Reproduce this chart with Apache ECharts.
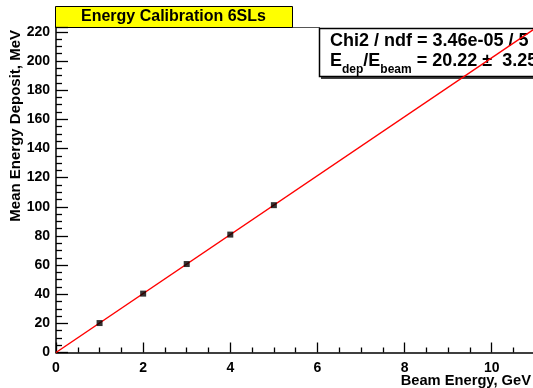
<!DOCTYPE html>
<html>
<head>
<meta charset="utf-8">
<script src="https://cdn.jsdelivr.net/npm/echarts@6/dist/echarts.min.js"></script>
<style>
html,body{margin:0;padding:0;background:#fff;}
#c{width:533px;height:388px;}
</style>
</head>
<body>
<div id="c"></div>
<script>
// Data
var beamEnergy = [1, 2, 3, 4, 5];
var energyDeposit = [20.2, 40.4, 60.7, 80.9, 101.1];
var fitSlope = 20.22;
var fitRange = [0, 11];
var titleText = 'Energy Calibration 6SLs';
var xTitle = 'Beam Energy, GeV';
var yTitle = 'Mean Energy Deposit, MeV';
var statLine1 = 'Chi2 / ndf = 3.46e-05 / 5';

var FONT = 'Liberation Sans, Arial, Helvetica, sans-serif';
var pts = beamEnergy.map(function(x, i){ return [x, energyDeposit[i]]; });
var fitPts = fitRange.map(function(x){ return [x, fitSlope * x]; });

var chart = echarts.init(document.getElementById('c'));
chart.setOption({
  animation: false,
  backgroundColor: '#fff',
  grid: {left: 56, top: 27.5, width: 479.3, height: 325, containLabel: false, outerBoundsMode: 'none'},
  xAxis: {
    type: 'value', min: 0, max: 11, interval: 2,
    axisLine: {show: true, onZero: false, lineStyle: {color: '#000', width: 1.5}},
    axisTick: {show: true, inside: true, length: 10, lineStyle: {color: '#000', width: 1.3}},
    minorTick: {show: true, splitNumber: 4, length: 5, lineStyle: {color: '#000', width: 1.3}},
    splitLine: {show: false},
    axisLabel: {color: '#000', fontFamily: FONT, fontWeight: 'bold', fontSize: 14, margin: 9,
      formatter: function(v){ return v % 2 === 0 ? String(v) : ''; }}
  },
  yAxis: {
    type: 'value', min: 0, max: 223, interval: 20,
    axisLine: {show: true, onZero: false, lineStyle: {color: '#000', width: 1.5}},
    axisTick: {show: true, inside: true, length: 12, lineStyle: {color: '#000', width: 1.3}},
    minorTick: {show: true, splitNumber: 4, length: 6, lineStyle: {color: '#000', width: 1.3}},
    splitLine: {show: false},
    axisLabel: {color: '#000', fontFamily: FONT, fontWeight: 'bold', fontSize: 14, margin: 6,
      formatter: function(v){ return v % 20 === 0 ? String(v) : ''; }}
  },
  series: [
    {
      type: 'line', data: fitPts, symbol: 'none', z: 4,
      lineStyle: {color: '#ff0000', width: 1.5}
    },
    {
      type: 'scatter', data: pts, symbol: 'rect', symbolSize: 6, z: 5,
      itemStyle: {color: '#000'}
    }
  ],
  graphic: [
    {type: 'line', z: -1, shape: {x1: 56, y1: 27.5, x2: 320, y2: 27.5}, style: {stroke: '#555', lineWidth: 1}},
    {type: 'rect', z: -1, shape: {x: 55.5, y: 6.5, width: 237, height: 21}, style: {fill: '#ffff00', stroke: '#000', lineWidth: 1}},
    {type: 'text', z: -1, left: 81, top: 9, style: {text: titleText, font: 'bold 16px ' + FONT, fill: '#000'}},
    {type: 'rect', z: -1, shape: {x: 319.5, y: 28.5, width: 230, height: 48}, style: {fill: '#fff', stroke: '#000', lineWidth: 1.5}},
    {type: 'line', z: -1, shape: {x1: 321, y1: 78, x2: 540, y2: 78}, style: {stroke: '#000', lineWidth: 1.5}},
    {type: 'text', z: -1, left: 330, top: 32, style: {text: statLine1, font: 'bold 18px ' + FONT, fill: '#000'}},
    {type: 'text', z: -1, left: 330, top: 52, style: {
      text: '{b|E}{s|dep}{b|/E}{s|beam}{b| = 20.22 \u00b1  3.25}',
      rich: {
        b: {font: 'bold 18px ' + FONT, fill: '#000', color: '#000', verticalAlign: 'bottom', lineHeight: 20},
        s: {font: 'bold 12px ' + FONT, fill: '#000', color: '#000', verticalAlign: 'bottom', lineHeight: 14, padding: [0,0,-6,0]}
      }
    }},
    {type: 'text', z: -1, right: 2, top: 373, style: {text: xTitle, font: 'bold 14.7px ' + FONT, fill: '#000'}},
    {type: 'text', z: -1, x: 8, y: 30, rotation: Math.PI / 2, style: {text: yTitle, font: 'bold 15px ' + FONT, fill: '#000', align: 'right', verticalAlign: 'top'}}
  ]
});
</script>
</body>
</html>
